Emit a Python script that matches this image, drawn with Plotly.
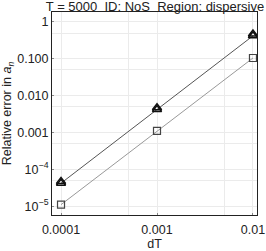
import plotly.graph_objects as go

dT = [0.0001, 0.001, 0.01]
tri_a = [4.2e-5, 4.2e-3, 0.42]
tri_b = [4.7e-5, 4.7e-3, 0.47]
sq = [1.1e-5, 1.1e-3, 0.105]

ytickvals = [1, 0.1, 0.01, 0.001, 1e-4, 1e-5]
yticktext = ["1", "0.100", "0.010", "0.001", "10<sup>−4</sup>", "10<sup>−5</sup>"]
xtickvals = [0.0001, 0.001, 0.01]
xticktext = ["0.0001", "0.001", "0.01"]
xminor = [0.0005, 0.005]
yminor = [0.5, 0.05, 0.005, 0.0005, 5e-5]

FONT = "Liberation Sans, Arial"

fig = go.Figure()
fig.add_trace(go.Scatter(x=dT, y=sq, mode="lines+markers",
                         line=dict(color="#999999", width=1),
                         marker=dict(symbol="square-open", size=7, color="#444444",
                                     line=dict(width=1.2))))
fig.add_trace(go.Scatter(x=dT, y=tri_a, mode="lines+markers",
                         line=dict(color="#555555", width=1),
                         marker=dict(symbol="triangle-up-open", size=8, color="#111111",
                                     line=dict(width=1.5))))
fig.add_trace(go.Scatter(x=dT, y=tri_b, mode="markers",
                         marker=dict(symbol="triangle-up-open", size=8, color="#111111",
                                     line=dict(width=1.5))))

axis_common = dict(showline=True, linecolor="#222222", linewidth=1, mirror=True,
                   showgrid=True, gridcolor="#ebebeb", gridwidth=1, zeroline=False,
                   ticks="inside", ticklen=2, tickcolor="#888888", automargin=False,
                   tickfont=dict(family=FONT, size=12.5, color="#222222"))

fig.update_xaxes(type="log", range=[-4.094, -1.958], tickvals=xtickvals, ticktext=xticktext,
                 minor=dict(tickvals=xminor, showgrid=True, gridcolor="#ebebeb", ticks=""),
                 ticklabelstandoff=3,
                 title=dict(text="dT", font=dict(family=FONT, size=12.5, color="#222222"),
                            standoff=4),
                 **axis_common)
fig.update_yaxes(type="log", range=[-5.24, 0.27], tickvals=ytickvals, ticktext=yticktext,
                 minor=dict(tickvals=yminor, showgrid=True, gridcolor="#ebebeb", ticks=""),
                 title=dict(text="Relative error in <i>a</i><sub><i>n</i></sub>",
                            font=dict(family=FONT, size=12.5, color="#222222"),
                            standoff=4),
                 **axis_common)

fig.update_layout(
    width=266, height=251,
    margin=dict(l=52, r=9, t=12, b=36),
    showlegend=False,
    plot_bgcolor="white", paper_bgcolor="white",
    title=dict(text="T = 5000\u00a0\u00a0ID: NoS\u00a0\u00a0Region: dispersive",
               x=155 / 266, xanchor="center", xref="container",
               y=0.993, yanchor="top", yref="container", pad=dict(t=0, b=0),
               font=dict(family=FONT, size=13, color="#222222")),
)

fig.write_html("out.html", config={"displayModeBar": False},
               post_script="document.body.style.margin='0px';document.body.style.overflow='hidden';")
